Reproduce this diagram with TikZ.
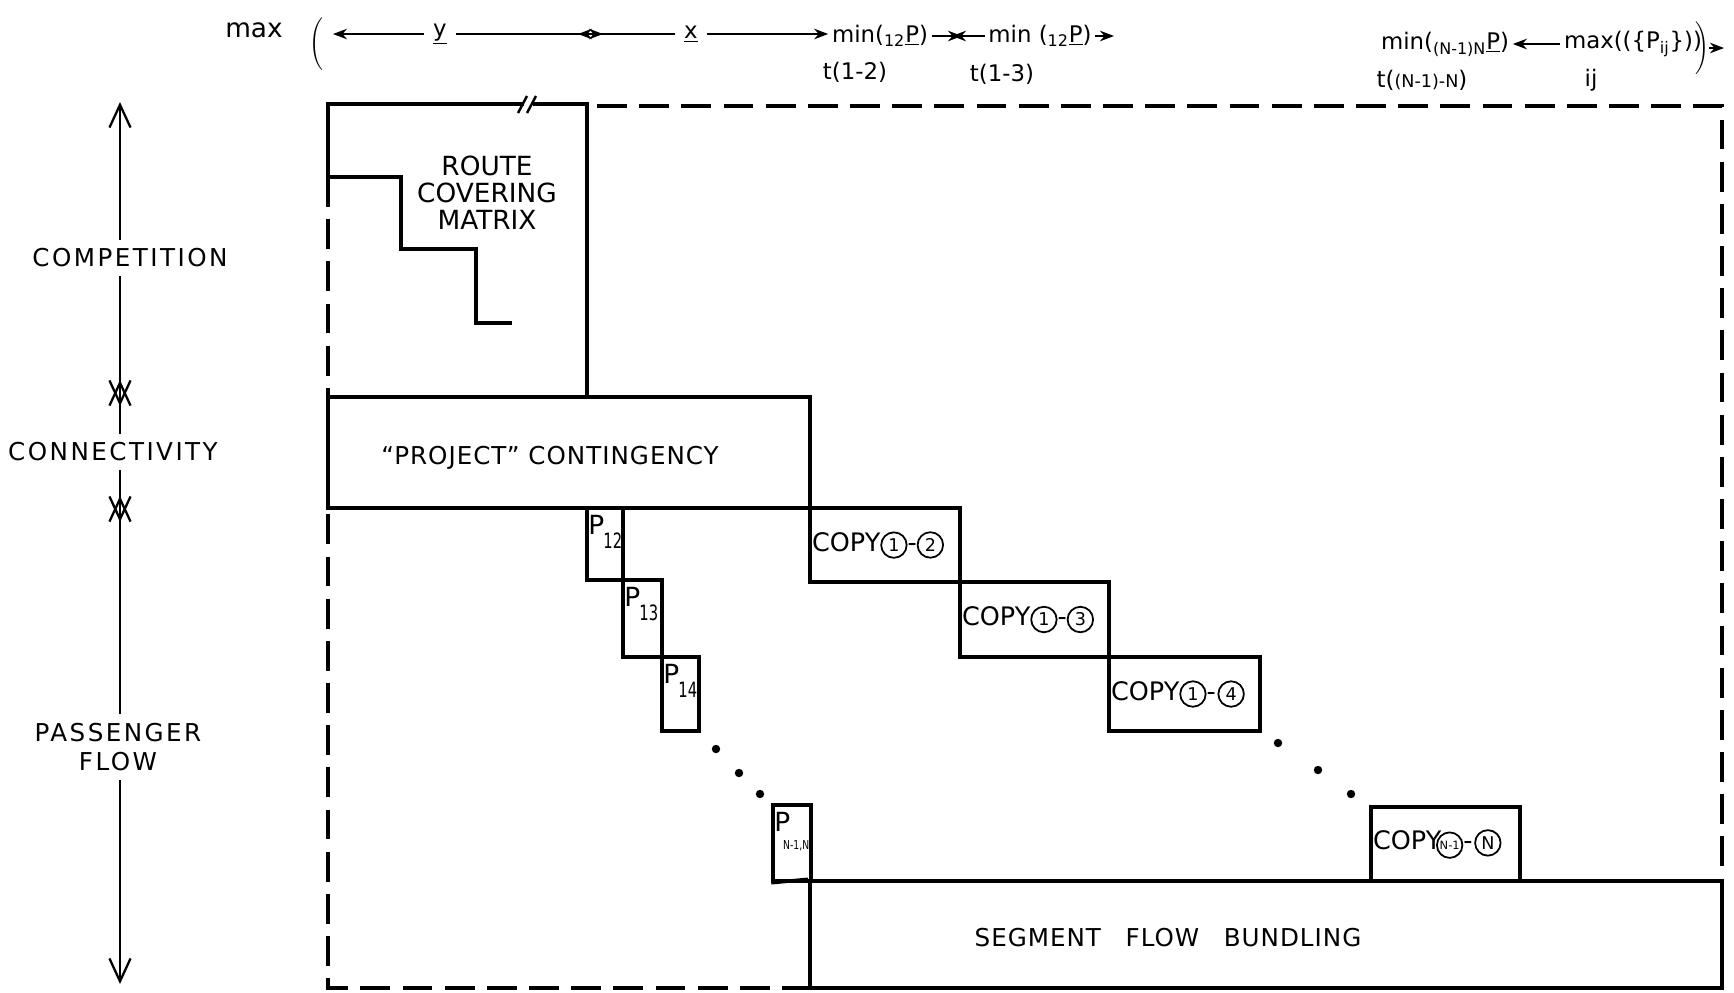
\documentclass[tikz,border=0pt]{standalone}
\usepackage{fontspec}
\usepackage{graphicx}
\setmainfont{DejaVu Sans}
\usetikzlibrary{positioning,arrows.meta,fit}
\newcommand{\cnum}[2][10]{\tikz[baseline=(cn.base)]\node[circle,draw,line width=1pt,inner sep=0.2pt,minimum size=14.5pt,font=\fontsize{#1}{#1}\selectfont] (cn) {#2};}
\newcommand{\psub}[2][12]{P\kern-0.5pt\raisebox{-8pt}{\scalebox{0.7}[1]{\fontsize{#1}{#1}\selectfont #2}}}
\tikzset{
  box/.style={draw,line width=2pt,inner sep=0pt},
  frm/.style={line width=2pt},
  dsh/.style={line width=2pt,dash pattern=on 17pt off 7pt},
  side/.style={font=\fontsize{14}{17}\selectfont\addfontfeature{LetterSpace=10},align=center,inner sep=5pt},
  lbl/.style={font=\fontsize{14}{15.3}\selectfont\addfontfeature{LetterSpace=4},align=center},
  cpl/.style={font=\fontsize{14.5}{15}\selectfont,inner sep=2pt,anchor=west},
  pl/.style={font=\fontsize{15}{15}\selectfont,inner sep=1pt,anchor=north west},
  tt/.style={font=\fontsize{13}{14}\selectfont,inner sep=1pt,inner xsep=5pt},
  tarr/.style={line width=1.1pt,-{Stealth[length=8pt,width=6pt]}},
  larr/.style={line width=1.3pt,-{Straight Barb[length=13pt,width=12pt]}},
  dot/.style={fill=black},
}
\begin{document}
\begin{tikzpicture}[x=0.02cm,y=-0.02cm]
  \useasboundingbox (0,0) rectangle (1734,992);
  % top row
  \node[tt,font=\fontsize{15}{15}\selectfont] (mx) at (254,30) {max};
  \node[inner sep=0pt] (lp) at (316,44) {$\Bigg($};
  \coordinate (yl) at (333,34);
  \coordinate (yr) at (603,34);
  \coordinate (xl) at (578,34);
  \node[tt] (ylab) at (440,34) {\underline{y}};
  \node[tt] (xlab) at (691,34) {\underline{x}};
  \node[tt,inner xsep=2pt] (m12) at (880,36) {min(\textsubscript{12}\underline{P})};
  \node[tt] (t12) at (855,72) {t(1-2)};
  \node[tt,inner xsep=2pt] (m13) at (1040,36) {min (\textsubscript{12}\underline{P})};
  \node[tt] (t13) at (1002,74) {t(1-3)};
  \coordinate (b1) at (962,36);
  \coordinate (b2) at (952,36);
  \coordinate (e13) at (1114,36);
  \node[tt,inner xsep=2pt] (mN) at (1445,44) {min(\textsubscript{(N-1)N}\underline{P})};
  \node[tt] (tN) at (1422,80) {t({\fontsize{10}{10}\selectfont(N-1)-N})};
  \node[tt,inner xsep=2pt] (mP) at (1633,44) {max((\{P\textsubscript{ij}\}))};
  \node[tt] (ij) at (1591,80) {ij};
  \node[inner sep=0pt] (rp) at (1702,48) {$\Bigg)$};
  \coordinate (re) at (1724,48);
  \draw[tarr] (ylab) -- (yl);
  \draw[tarr] (ylab) -- (yr);
  \draw[tarr] (xlab) -- (xl);
  \draw[tarr] (xlab) -- (m12.west |- xlab);
  \draw[tarr] (m12) -- (b1);
  \draw[tarr] (m13) -- (b2);
  \draw[tarr] (m13) -- (e13);
  \draw[tarr] (mP) -- (mN);
  \draw[tarr] (rp) -- (re);
  % left scale
  \node[side] (comp) at (130,258) {COMPETITION};
  \node[side] (conn) at (113,452) {CONNECTIVITY};
  \node[side] (pass) at (118,747) {PASSENGER\\FLOW};
  \coordinate (atop) at (120,102);
  \coordinate (x1d) at (120,406);
  \coordinate (x1u) at (120,380);
  \coordinate (x2d) at (120,522);
  \coordinate (x2u) at (120,496);
  \coordinate (abot) at (120,984);
  \draw[larr] (comp.north -| atop) -- (atop);
  \draw[larr] (comp.south -| atop) -- (x1d);
  \draw[larr] (conn.north -| atop) -- (x1u);
  \draw[larr] (conn.south -| atop) -- (x2d);
  \draw[larr] (pass.north -| atop) -- (x2u);
  \draw[larr] (pass.south -| atop) -- (abot);
  % frame
  \draw[dsh] (597,106) -- (1722,106) -- (1722,881);
  \draw[dsh] (328,177) -- (328,988) -- (810,988);
  % route covering matrix
  \draw[frm] (328,177) -- (328,104) -- (524,104);
  \draw[frm] (533,104) -- (587,104) -- (587,397);
  \draw[line width=1.4pt] (518,113) -- (527,96) (527,113) -- (536,96);
  \draw[frm] (328,177) -- (401,177) -- (401,249) -- (476,249) -- (476,323) -- (512,323);
  \node[lbl,font=\fontsize{15}{15.3}\selectfont] (rcm) at (487,193) {ROUTE\\COVERING\\MATRIX};
  % blocks
  \node[box,fit={(328,397) (810,508)}] (proj) {};
  \node[lbl] (projt) at (550,458) {``PROJECT'' CONTINGENCY};
  \node[box,fit={(587,508) (623,580)}] (p12) {};
  \node[box,fit={(623,580) (662,657)}] (p13) {};
  \node[box,fit={(662,657) (699,731)}] (p14) {};
  \node[box,fit={(773,805) (811,881)}] (pN) {};
  \node[pl] at ([shift={(1,7)}]p12.north west) {\psub{12}};
  \node[pl] at ([shift={(1,7)}]p13.north west) {\psub{13}};
  \node[pl] at ([shift={(1,7)}]p14.north west) {\psub{14}};
  \node[pl] at ([shift={(1,7)}]pN.north west) {P\kern-4pt\raisebox{-10pt}{\scalebox{0.75}[1]{\fontsize{7}{7}\selectfont N-1,N}}};
  \node[box,fit={(810,508) (960,582)}] (c12) {};
  \node[box,fit={(960,582) (1109,657)}] (c13) {};
  \node[box,fit={(1109,657) (1260,731)}] (c14) {};
  \node[box,fit={(1371,807) (1520,881)}] (cN) {};
  \node[cpl] at (c12.west) {COPY\cnum{1}-\cnum{2}};
  \node[cpl] at (c13.west) {COPY\cnum{1}-\cnum{3}};
  \node[cpl] at (c14.west) {COPY\cnum{1}-\kern1pt\cnum{4}};
  \node[cpl] at (cN.west) {COPY\kern-3pt\cnum[6.5]{N-1}-\kern1pt\cnum{N}};
  \node[box,fit={(810,881) (1722,988)}] (seg) {};
  \node[lbl] (segt) at (1168,938) {SEGMENT\quad FLOW\quad BUNDLING};
  \draw[frm] (pN.south west) -- (seg.north west);
  % dots
  \foreach \p in {(716,749),(739,773),(760,794),(1278,743),(1318,770),(1351,794)}
    \fill[dot] \p circle (2.4pt);
\end{tikzpicture}
\end{document}
